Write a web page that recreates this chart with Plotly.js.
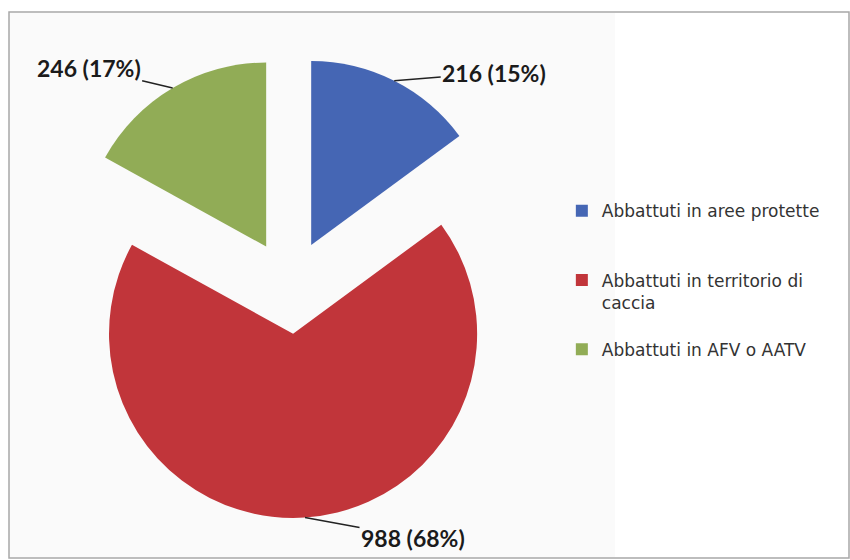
<!DOCTYPE html>
<html>
<head>
<meta charset="utf-8">
<script src="https://cdn.plot.ly/plotly-3.0.1.min.js"></script>
<style>html,body{margin:0;padding:0;background:#fff;}#chart{width:850px;height:560px;}</style>
</head>
<body>
<div id="chart"></div>
<script>
// ---- data ----
var categories = ["Abbattuti in aree protette", "Abbattuti in territorio di caccia", "Abbattuti in AFV o AATV"];
var values = [216, 988, 246];
var percentLabels = ["15%", "68%", "17%"];
var colors = ["#4566b4", "#c1353a", "#91ac56"];

// ---- layout constants ----
var W = 850, H = 560;
var domX = [0.0694, 0.613];
var domY = [0.075, 0.9];
var pull = 0.255;

// legend labels (line breaks/padding for spacing like the original)
var legendLabels = [
  categories[0] + "<br> <br> ",
  "Abbattuti in territorio di<br>caccia<br> ",
  categories[2]
];

var total = values.reduce(function(a,b){return a+b;},0);
var cx = W*(domX[0]+domX[1])/2;
var cy = H*(1-domY[0]) - H*(domY[1]-domY[0])/2;
var r = Math.min(W*(domX[1]-domX[0]), H*(domY[1]-domY[0]))/2/(1+pull);

// label offsets (pixels) from slice edge
var offsets = [[100,-8],[108,20],[-84,-20]];

var annotations = [];
var cum = 0;
for (var i=0;i<values.length;i++){
  var mid = (cum + values[i]/2)/total*2*Math.PI;
  cum += values[i];
  var px = cx + r*(1+pull)*Math.sin(mid);
  var py = cy - r*(1+pull)*Math.cos(mid);
  annotations.push({
    xref:"paper", yref:"paper", x:px/W, y:1-py/H,
    text: values[i] + " (" + percentLabels[i] + ")",
    showarrow:true, arrowhead:0, arrowwidth:1.5, arrowcolor:"#222",
    ax:offsets[i][0], ay:offsets[i][1], standoff:0,
    font:{family:"Lato, 'Open Sans', sans-serif", size:23, color:"#1b1b1b", weight:"bold"}
  });
}

var trace = {
  type:"pie",
  labels: legendLabels,
  values: values,
  sort:false,
  direction:"clockwise",
  rotation:0,
  pull:[pull,pull,pull],
  marker:{colors:colors, line:{width:0}},
  textinfo:"none",
  hoverinfo:"label+value+percent",
  domain:{x:domX, y:domY}
};

var layout = {
  width:W, height:H,
  margin:{l:0,r:0,t:0,b:0},
  paper_bgcolor:"#ffffff",
  showlegend:true,
  legend:{
    x:0.661, y:0.655, xanchor:"left", yanchor:"top",
    valign:"top",
    bgcolor:"rgba(0,0,0,0)",
    font:{family:"'DejaVu Sans', sans-serif", size:17, color:"#333"}
  },
  annotations: annotations,
  shapes:[
    {type:"rect", xref:"paper", yref:"paper", layer:"below",
     x0:9/W, x1:615/W, y0:1-557/H, y1:1-13/H,
     fillcolor:"#fafafa", line:{width:0}},
    {type:"rect", xref:"paper", yref:"paper", layer:"above",
     x0:9/W, x1:849/W, y0:1-558/H, y1:1-12/H,
     fillcolor:"rgba(0,0,0,0)", line:{color:"#a8a8a8", width:1.5}}
  ]
};

Plotly.newPlot("chart", [trace], layout, {displayModeBar:false, staticPlot:true});
</script>
</body>
</html>
